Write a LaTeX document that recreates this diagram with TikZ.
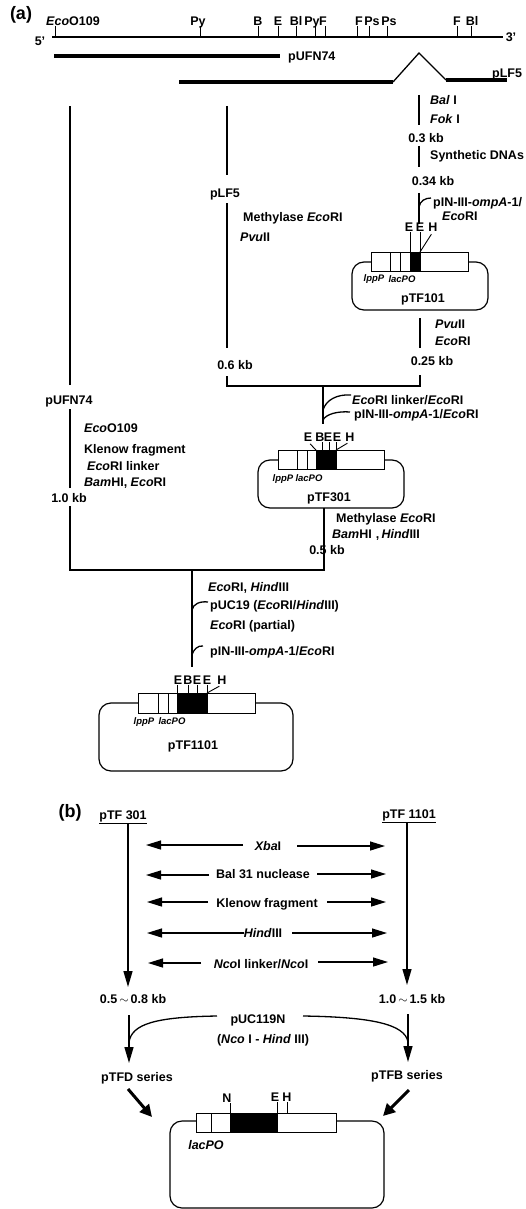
\documentclass[tikz,border=0pt]{standalone}
\usepackage{fontspec}
\setmainfont{Liberation Sans}
\usetikzlibrary{arrows.meta, positioning}

\begin{document}
\begin{tikzpicture}[
    x=1pt, y=-1pt,
    txt/.style={inner sep=0pt, text height=9pt, text depth=0pt,
                font=\fontsize{12.5}{14}\selectfont\bfseries},
    ltxt/.style={txt, anchor=west},
    small/.style={inner sep=0pt, text height=7pt, text depth=0pt,
                  font=\fontsize{9.5}{11}\selectfont\bfseries\itshape},
    large/.style={small, font=\fontsize{12.5}{14}\selectfont\bfseries\itshape},
    panel/.style={inner sep=0pt, font=\fontsize{18}{20}\selectfont\bfseries},
    plasmid/.style={rectangle, draw, line width=1.2pt, rounded corners=12pt,
                    inner sep=0pt, outer sep=0pt},
    seg/.style={rectangle, draw, fill=white, line width=0.9pt, inner sep=0pt, outer sep=0pt,
                minimum height=19pt},
    ins/.style={seg, fill=black},
    stem/.style={line width=1.3pt},
    tick/.style={line width=0.9pt},
    bar/.style={line width=4.5pt},
    diag/.style={tick, shorten >=3pt},
    harr/.style={line width=1.3pt, -{Triangle[length=15pt,width=9pt]}},
    varr/.style={line width=1.4pt, -{Triangle[length=16pt,width=9pt]}},
    fat/.style={line width=3pt, -{Triangle[length=12pt,width=12pt]}}
]
\useasboundingbox (0,0) rectangle (525,1209);

\node[panel] (pa) at (21,15)  {(a)};
\node[panel] (pb) at (70,813) {(b)};

\coordinate (mapl) at (52,37);
\coordinate (mapr) at (503,37);
\draw[stem] (mapl) -- (mapr);
\node[txt] (five)  at (40,41)  {5'};
\node[txt] (three) at (511,37) {3'};

\node[txt] (eco)  at (73,21)  {\textit{Eco}O109};
\node[txt] (py1)  at (198,21) {Py};
\node[txt] (b1)   at (258,21) {B};
\node[txt] (e1)   at (278,21) {E};
\node[txt] (bl1)  at (296,21) {Bl};
\node[txt] (py2)  at (312,21) {Py};
\node[txt] (f1)   at (323,21) {F};
\node[txt] (f2)   at (359,21) {F};
\node[txt] (ps1)  at (372,21) {Ps};
\node[txt] (ps2)  at (389,21) {Ps};
\node[txt] (f3)   at (457,21) {F};
\node[txt] (bl2)  at (472,21) {Bl};

\coordinate (teco) at (55,37);
\coordinate (tpy1) at (200,37);
\coordinate (tb1)  at (258,37);
\coordinate (te1)  at (278,37);
\coordinate (tbl1) at (296,37);
\coordinate (tpy2) at (315,37);
\coordinate (tf1)  at (325,37);
\coordinate (tf2)  at (357,37);
\coordinate (tps1) at (369,37);
\coordinate (tps2) at (387,37);
\coordinate (tf3)  at (457,37);
\coordinate (tbl2) at (471,37);
\draw[tick] (teco) -- (teco |- eco.south);
\draw[tick] (tpy1) -- (tpy1 |- py1.south);
\draw[tick] (tb1)  -- (tb1 |- b1.south);
\draw[tick] (te1)  -- (te1 |- e1.south);
\draw[tick] (tbl1) -- (tbl1 |- bl1.south);
\draw[tick] (tpy2) -- (tpy2 |- py2.south);
\draw[tick] (tf1)  -- (tf1 |- f1.south);
\draw[tick] (tf2)  -- (tf2 |- f2.south);
\draw[tick] (tps1) -- (tps1 |- ps1.south);
\draw[tick] (tps2) -- (tps2 |- ps2.south);
\draw[tick] (tf3)  -- (tf3 |- f3.south);
\draw[tick] (tbl2) -- (tbl2 |- bl2.south);

\coordinate (ufa)  at (54,56);
\coordinate (ufb)  at (280,56);
\coordinate (lfa)  at (179,82);
\coordinate (lfb)  at (393,82);
\coordinate (lfc)  at (419,53);
\coordinate (lfd)  at (446,80);
\coordinate (lfe)  at (507,80);
\node[ltxt] (ufn)  at (288,56) {pUFN74};
\node[ltxt] (lf5)  at (492,73) {pLF5};
\draw[bar]  (ufa) -- (ufb);
\draw[bar]  (lfa) -- (lfb);
\draw[bar]  (lfd) -- (lfe);
\draw[stem] (lfb) -- (lfc) -- (lfd);

\node[ltxt] (bal)  at (430,100) {\textit{Bal} I};
\node[ltxt] (fok)  at (430,119) {\textit{Fok} I};
\node[txt]  (k03)  at (426,138) {0.3 kb};
\node[ltxt] (syn)  at (430,155) {Synthetic DNAs};
\node[txt]  (k034) at (433,181) {0.34 kb};
\node[ltxt] (pin1) at (433,202) {pIN-III-\textit{ompA}-1/};
\node[ltxt] (eco1) at (442,216) {\textit{Eco}RI};
\coordinate (ra) at (419,95);
\coordinate (rb) at (419,125);
\coordinate (rc) at (419,146);
\coordinate (rd) at (419,167);
\coordinate (re) at (419,193);
\coordinate (rf) at (419,224);
\coordinate (rg) at (419,207);
\coordinate (rh) at (431,198);
\draw[stem] (ra) -- (rb);
\draw[stem] (rc) -- (rd);
\draw[stem] (re) -- (rf);
\draw[stem] (rg) .. controls +(1,-6) and +(-6,0) .. (rh);

\node[plasmid, minimum width=136pt, minimum height=48pt] (p101) at (420,286) {};
\node[seg, minimum width=19pt, anchor=west] (s101a) at (371,261.5) {};
\node[seg, minimum width=10pt, right=0pt of s101a] (s101b) {};
\node[seg, minimum width=10pt, right=0pt of s101b] (s101c) {};
\node[ins, minimum width=10pt, right=0pt of s101c] (b101)  {};
\node[seg, minimum width=48pt, right=0pt of b101]  (s101d) {};
\node[txt]   (e101a) at (409,227) {E};
\node[txt]   (e101b) at (420,227) {E};
\node[txt]   (h101)  at (433,227) {H};
\node[small] (lpp1)  at (374,278) {lppP};
\node[small] (lac1)  at (402,279) {lacPO};
\node[txt]   (t101)  at (423,298) {pTF101};
\draw[tick] (b101.north west) -- (b101.north west |- e101a.south);
\draw[tick] (b101.north east) -- (b101.north east |- e101b.south);
\draw[diag] (b101.north east) -- (h101.south);

\coordinate (sa) at (420,318);
\coordinate (sb) at (420,348);
\coordinate (sc) at (420,375);
\coordinate (jn) at (420,386);
\coordinate (jm) at (227,386);
\node[ltxt] (pvu1) at (435,324) {\textit{Pvu}II};
\node[ltxt] (eco2) at (435,341) {\textit{Eco}RI};
\node[txt]  (k025) at (432,361) {0.25 kb};
\draw[stem] (sa) -- (sb);

\coordinate (la) at (227,106);
\coordinate (lb) at (227,175);
\coordinate (lc) at (227,203);
\coordinate (ld) at (227,348);
\coordinate (le) at (227,376);
\node[txt]  (lf5b) at (225,193) {pLF5};
\node[ltxt] (met1) at (243,217) {Methylase \textit{Eco}RI};
\node[ltxt] (pvu2) at (240,237) {\textit{Pvu}II};
\node[txt]  (k06)  at (235,365) {0.6 kb};
\draw[stem] (la) -- (lb);
\draw[stem] (lc) -- (ld);
\draw[stem] (le) -- (jm) -- (jn) -- (sc);

\coordinate (ja) at (323,386);
\coordinate (jb) at (323,424);
\coordinate (jc) at (323,410);
\coordinate (jd) at (351,395);
\coordinate (je) at (323,420);
\coordinate (jf) at (350,412);
\node[ltxt] (lnk)  at (352,400) {\textit{Eco}RI linker/\textit{Eco}RI};
\node[ltxt] (pin2) at (354,414) {pIN-III-\textit{ompA}-1/\textit{Eco}RI};
\draw[stem] (ja) -- (jb);
\draw[stem] (jc) .. controls +(3,-10) and +(-14,-1) .. (jd);
\draw[stem] (je) .. controls +(3,-6) and +(-12,-1) .. (jf);

\node[plasmid, minimum width=146pt, minimum height=48pt] (p301) at (331,484) {};
\node[seg, minimum width=19pt, anchor=west] (s301a) at (278,459.5) {};
\node[seg, minimum width=10pt, right=0pt of s301a] (s301b) {};
\node[seg, minimum width=9pt,  right=0pt of s301b] (s301c) {};
\node[ins, minimum width=6pt,  right=0pt of s301c] (b301a) {};
\node[ins, minimum width=7pt,  right=0pt of b301a] (b301b) {};
\node[ins, minimum width=7pt,  right=0pt of b301b] (b301c) {};
\node[seg, minimum width=48pt, right=0pt of b301c] (s301d) {};
\node[txt]   (e301a) at (308,437) {E};
\node[txt]   (b301)  at (320,437) {B};
\node[txt]   (e301b) at (328,437) {E};
\node[txt]   (e301c) at (337,437) {E};
\node[txt]   (h301)  at (350,437) {H};
\node[small] (lpp2)  at (283,478) {lppP};
\node[small] (lac2)  at (309,478) {lacPO};
\node[txt]   (t301)  at (329,497) {pTF301};
\draw[diag] (b301a.north west) -- (e301a.south);
\draw[tick] (b301a.north east) -- (b301a.north east |- b301.south);
\draw[tick] (b301b.north east) -- (b301b.north east |- e301b.south);
\draw[tick] (b301c.north east) -- (b301c.north east |- e301c.south);
\draw[diag] (b301c.north east) -- (h301.south);

\coordinate (ma) at (324,508);
\coordinate (mb) at (324,570);
\coordinate (mc) at (70,570);
\coordinate (md) at (70,506);
\coordinate (me) at (70,488);
\coordinate (mf) at (70,409);
\coordinate (mg) at (70,385);
\coordinate (mh) at (70,106);
\node[ltxt] (met2) at (336,518) {Methylase \textit{Eco}RI};
\node[ltxt] (bam1) at (332,534) {\textit{Bam}HI\,\,,\,\textit{Hind}III};
\node[txt]  (k05)  at (327,550) {0.5 kb};
\draw[stem] (ma) -- (mb) -- (mc) -- (md);
\draw[stem] (me) -- (mf);
\draw[stem] (mg) -- (mh);
\node[txt]  (ufn2) at (69,400)  {pUFN74};
\node[ltxt] (eco3) at (84,428)  {\textit{Eco}O109};
\node[ltxt] (kle1) at (84,449)  {Klenow fragment};
\node[ltxt] (lnk2) at (87,466)  {\textit{Eco}RI linker};
\node[ltxt] (bam2) at (84,482)  {\textit{Bam}HI, \textit{Eco}RI};
\node[txt]  (k10)  at (69,498)  {1.0 kb};

\coordinate (na) at (192,570);
\coordinate (nb) at (192,667);
\coordinate (nc) at (192,610);
\coordinate (nd) at (208,602);
\coordinate (ne) at (192,655);
\coordinate (nf) at (203,646);
\node[ltxt] (hin1) at (208,587) {\textit{Eco}RI, \textit{Hind}III};
\node[ltxt] (puc)  at (210,605) {pUC19 (\textit{Eco}RI/\textit{Hind}III)};
\node[ltxt] (par)  at (210,625) {\textit{Eco}RI (partial)};
\node[ltxt] (pin3) at (210,651) {pIN-III-\textit{ompA}-1/\textit{Eco}RI};
\draw[stem] (na) -- (nb);
\draw[stem] (nc) .. controls +(1,-6) and +(-8,-1) .. (nd);
\draw[stem] (ne) .. controls +(1,-5) and +(-5,-1) .. (nf);

\node[plasmid, minimum width=194pt, minimum height=68pt] (p1101) at (196,737) {};
\node[seg, minimum width=20pt, minimum height=20pt, anchor=west] (s11a) at (138,703) {};
\node[seg, minimum width=10pt, minimum height=20pt, right=0pt of s11a] (s11b) {};
\node[seg, minimum width=9pt,  minimum height=20pt, right=0pt of s11b] (s11c) {};
\node[ins, minimum width=11pt, minimum height=20pt, right=0pt of s11c] (b11a) {};
\node[ins, minimum width=9pt,  minimum height=20pt, right=0pt of b11a] (b11b) {};
\node[ins, minimum width=10pt, minimum height=20pt, right=0pt of b11b] (b11c) {};
\node[seg, minimum width=48pt, minimum height=20pt, right=0pt of b11c] (s11d) {};
\node[txt]   (e11a) at (178,680) {E};
\node[txt]   (b11)  at (188,680) {B};
\node[txt]   (e11b) at (197,680) {E};
\node[txt]   (e11c) at (207,680) {E};
\node[txt]   (h11)  at (222,680) {H};
\node[small] (lpp3) at (144,721) {lppP};
\node[small] (lac3) at (172,721) {lacPO};
\node[txt]   (t11)  at (193,745) {pTF1101};
\draw[tick] (b11a.north west) -- (b11a.north west |- e11a.south);
\draw[tick] (b11a.north east) -- (b11a.north east |- b11.south);
\draw[tick] (b11b.north east) -- (b11b.north east |- e11b.south);
\draw[tick] (b11c.north east) -- (b11c.north east |- e11c.south);
\draw[diag] (b11c.north east) -- (h11.south);

\node[txt] (ta) at (123,815) {\underline{pTF 301}};
\node[txt] (tb) at (409,814) {\underline{pTF 1101}};
\coordinate (aa) at (128,823);
\coordinate (ab) at (128,987);
\coordinate (ac) at (407,822);
\coordinate (ad) at (407,985);
\draw[varr] (aa) -- (ab);
\draw[varr] (ac) -- (ad);

\node[txt] (xba) at (268,846) {\textit{Xba}I};
\node[txt] (b31) at (263,874) {Bal 31 nuclease};
\node[txt] (kle) at (267,903) {Klenow fragment};
\node[txt] (hin) at (263,933) {\textit{Hind}III};
\node[txt] (nco) at (261,964) {\textit{Nco}I linker/\textit{Nco}I};
\coordinate (xa) at (243,845);
\coordinate (xb) at (146,845);
\coordinate (xc) at (297,846);
\coordinate (xd) at (385,846);
\coordinate (ba) at (209,875);
\coordinate (bb) at (146,875);
\coordinate (bc) at (317,874);
\coordinate (bd) at (386,874);
\coordinate (ka) at (208,902);
\coordinate (kb) at (147,902);
\coordinate (kc) at (327,902);
\coordinate (kd) at (386,902);
\coordinate (ha) at (244,933);
\coordinate (hb) at (147,933);
\coordinate (hc) at (292,933);
\coordinate (hd) at (387,933);
\coordinate (ca) at (201,963);
\coordinate (cb) at (148,963);
\coordinate (cc) at (318,962);
\coordinate (cd) at (388,962);
\draw[harr] (xa) -- (xb);
\draw[harr] (xc) -- (xd);
\draw[harr] (ba) -- (bb);
\draw[harr] (bc) -- (bd);
\draw[harr] (ka) -- (kb);
\draw[harr] (kc) -- (kd);
\draw[harr] (ha) -- (hb);
\draw[harr] (hc) -- (hd);
\draw[harr] (ca) -- (cb);
\draw[harr] (cc) -- (cd);

\node[txt] (k58) at (133,999)  {0.5\,$\sim$\,0.8 kb};
\node[txt] (k15) at (412,999)  {1.0\,$\sim$\,1.5 kb};
\node[txt] (u19) at (258,1019) {pUC119N};
\node[txt] (ncb) at (263,1039) {(\textit{Nco} I - \textit{Hind} III)};
\node[txt] (tfd) at (137,1077) {pTFD series};
\node[txt] (tfb) at (407,1075) {pTFB series};
\coordinate (da) at (129,1015);
\coordinate (db) at (129,1063);
\coordinate (dc) at (408,1014);
\coordinate (dd) at (408,1062);
\coordinate (de) at (217,1016);
\coordinate (df) at (129,1042);
\coordinate (dg) at (303,1016);
\coordinate (dh) at (408,1042);
\coordinate (fa) at (128,1089);
\coordinate (fb) at (152,1117);
\coordinate (fc) at (409,1090);
\coordinate (fd) at (383,1116);
\draw[varr] (da) -- (db);
\draw[varr] (dc) -- (dd);
\draw[stem] (de) .. controls +(-62,1) and +(3,-18) .. (df);
\draw[stem] (dg) .. controls +(68,1) and +(-3,-18) .. (dh);
\draw[fat]  (fa) -- (fb);
\draw[fat]  (fc) -- (fd);

\node[plasmid, minimum width=214pt, minimum height=87pt] (pfin) at (277,1164.5) {};
\node[seg, minimum width=15pt, anchor=west] (sfa) at (196,1122.5) {};
\node[seg, minimum width=19pt, right=0pt of sfa] (sfb) {};
\node[ins, minimum width=47pt, right=0pt of sfb] (bf)  {};
\node[seg, minimum width=59pt, right=0pt of bf]  (sfc) {};
\coordinate (hf) at (287,1113);
\node[txt]   (nf2) at (227,1098) {N};
\node[txt]   (ef)  at (275,1097) {E};
\node[txt]   (hf2) at (287,1097) {H};
\node[large] (lacf) at (206,1146) {lacPO};
\draw[tick] (bf.north west) -- (bf.north west |- nf2.south);
\draw[tick] (bf.north east) -- (bf.north east |- ef.south);
\draw[tick] (hf) -- (hf |- hf2.south);
\end{tikzpicture}
\end{document}
